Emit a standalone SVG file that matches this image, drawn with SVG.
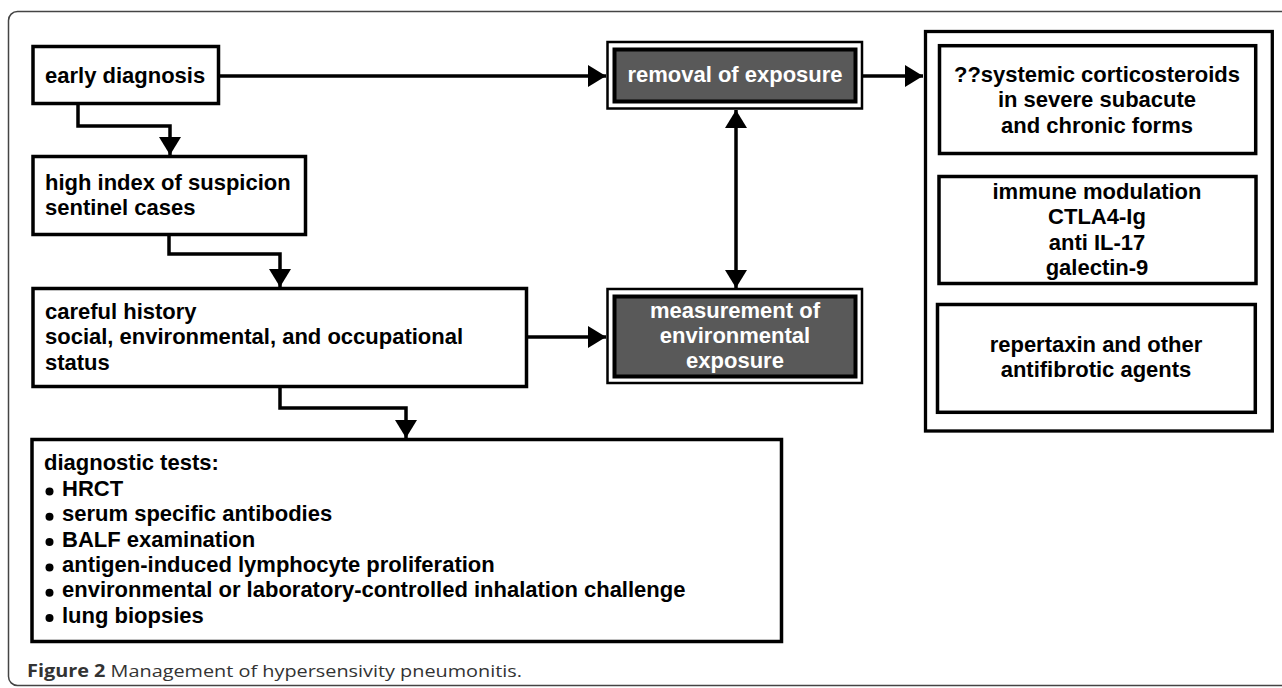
<svg xmlns="http://www.w3.org/2000/svg" width="1282" height="688" viewBox="0 0 1282 688">
<style>
.box{fill:#fff;stroke:#000;stroke-width:3.5}
.dark{fill:#595959;stroke:#000;stroke-width:4}
.dout{fill:#fff;stroke:#000;stroke-width:2.5}
.t{font-family:"Liberation Sans",Arial,sans-serif;font-weight:bold;font-size:22px;fill:#000}
.w{fill:#fff}
.c{text-anchor:middle}
.ln{fill:none;stroke:#000;stroke-width:3.5}
.cap{font-family:"Open Sans","Noto Sans",sans-serif;font-size:17px;fill:#333}
</style>
<defs>
<marker id="ah" markerUnits="userSpaceOnUse" markerWidth="18" markerHeight="22" refX="18" refY="11" orient="auto-start-reverse" viewBox="0 0 18 22">
<path d="M0,0 L18,11 L0,22 z" fill="#000"/>
</marker>
</defs>
<rect x="8.5" y="11.5" width="1320" height="674" rx="9" fill="#fff" stroke="#444" stroke-width="1.5"/>

<g id="connectors">
<path class="ln" d="M220,76 H606" marker-end="url(#ah)"/>
<path class="ln" d="M863,76 H923" marker-end="url(#ah)"/>
<path class="ln" d="M78,105 V126 H170 V155" marker-end="url(#ah)"/>
<path class="ln" d="M169,236 V254 H280 V287" marker-end="url(#ah)"/>
<path class="ln" d="M280,388 V408 H406 V438" marker-end="url(#ah)"/>
<path class="ln" d="M528,337 H606" marker-end="url(#ah)"/>
<path class="ln" d="M736,110 V288" marker-start="url(#ah)" marker-end="url(#ah)"/>
</g>

<g id="early-diagnosis">
<rect class="box" x="33" y="46.5" width="185.5" height="57"/>
<text class="t" x="45" y="83">early diagnosis</text>
</g>

<g id="high-index">
<rect class="box" x="33" y="156.5" width="272.5" height="78"/>
<text class="t" x="45" y="190">high index of suspicion</text>
<text class="t" x="45" y="215">sentinel cases</text>
</g>

<g id="careful-history">
<rect class="box" x="33" y="288.5" width="493.5" height="98"/>
<text class="t" x="45" y="318.5">careful history</text>
<text class="t" x="45" y="344">social, environmental, and occupational</text>
<text class="t" x="45" y="369.5">status</text>
</g>

<g id="diagnostic-tests">
<rect class="box" x="32" y="439.5" width="749.5" height="202"/>
<text class="t" x="44" y="470">diagnostic tests:</text>
<g fill="#000">
<circle cx="49.5" cy="491.5" r="4"/>
<circle cx="49.5" cy="516.8" r="4"/>
<circle cx="49.5" cy="542.1" r="4"/>
<circle cx="49.5" cy="567.4" r="4"/>
<circle cx="49.5" cy="592.7" r="4"/>
<circle cx="49.5" cy="618" r="4"/>
</g>
<text class="t" x="62" y="496">HRCT</text>
<text class="t" x="62" y="521.3">serum specific antibodies</text>
<text class="t" x="62" y="546.6">BALF examination</text>
<text class="t" x="62" y="571.9">antigen-induced lymphocyte proliferation</text>
<text class="t" x="62" y="597.2">environmental or laboratory-controlled inhalation challenge</text>
<text class="t" x="62" y="622.5">lung biopsies</text>
</g>

<g id="removal-of-exposure">
<rect class="dout" x="607.5" y="42" width="254.5" height="66.5"/>
<rect class="dark" x="614.5" y="49.5" width="241" height="52"/>
<text class="t w c" x="735" y="82">removal of exposure</text>
</g>

<g id="measurement">
<rect class="dout" x="607.5" y="289" width="254.5" height="94"/>
<rect class="dark" x="614.5" y="296.5" width="241" height="80"/>
<text class="t w c" x="735" y="318">measurement of</text>
<text class="t w c" x="735" y="343">environmental</text>
<text class="t w c" x="735" y="368">exposure</text>
</g>

<g id="treatments">
<rect class="box" x="925.5" y="31.5" width="346.8" height="399.5" style="stroke-width:3.3"/>
</g>

<g id="corticosteroids">
<rect class="box" x="939.5" y="45.7" width="316.2" height="107.8"/>
<text class="t c" x="1097" y="81.5">??systemic corticosteroids</text>
<text class="t c" x="1097" y="107">in severe subacute</text>
<text class="t c" x="1097" y="132.5">and chronic forms</text>
</g>

<g id="immune-modulation">
<rect class="box" x="939" y="176.5" width="317" height="107"/>
<text class="t c" x="1097" y="199">immune modulation</text>
<text class="t c" x="1097" y="224">CTLA4-Ig</text>
<text class="t c" x="1097" y="249.5">anti IL-17</text>
<text class="t c" x="1097" y="274.5">galectin-9</text>
</g>

<g id="antifibrotic">
<rect class="box" x="937.5" y="304.5" width="317.8" height="107.8"/>
<text class="t c" x="1096" y="352">repertaxin and other</text>
<text class="t c" x="1096" y="377">antifibrotic agents</text>
</g>

<text class="cap" x="27" y="677" textLength="495" lengthAdjust="spacingAndGlyphs"><tspan font-weight="bold">Figure 2</tspan> Management of hypersensivity pneumonitis.</text>
</svg>
